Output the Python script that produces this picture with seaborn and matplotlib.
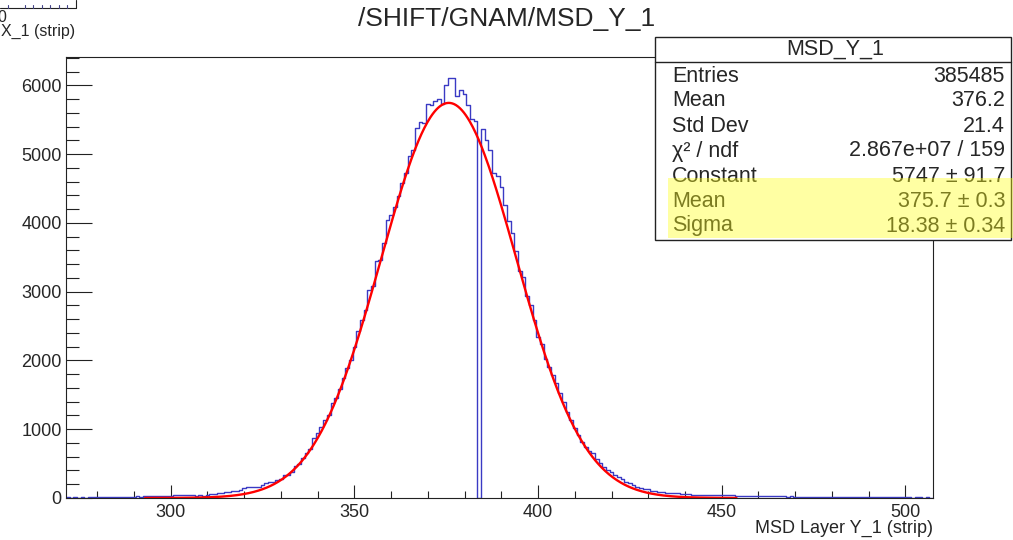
import numpy as np
import pandas as pd
import matplotlib
matplotlib.use("Agg")
import matplotlib.pyplot as plt
import seaborn as sns
from matplotlib.patches import Rectangle
from matplotlib.lines import Line2D
from matplotlib.ticker import MultipleLocator

# ---------------- data ----------------
title = "/SHIFT/GNAM/MSD_Y_1"
x_label = "MSD Layer Y_1 (strip)"
first_strip = 272
counts = [
    8, 5, 9, 6, 10, 7, 12, 9, 14, 11,
    15, 12, 16, 14, 18, 20, 17, 21, 19, 22,
    20, 22, 25, 23, 27, 26, 29, 28, 31, 40,
    44, 42, 46, 43, 47, 36, 38, 35, 40, 55,
    60, 70, 76, 80, 88, 100, 104, 110, 150, 155,
    158, 160, 165, 189, 222, 228, 234, 268, 275, 330,
    340, 383, 470, 490, 578, 650, 708, 868, 941, 1029,
    1135, 1208, 1378, 1451, 1582, 1742, 1887, 2009, 2203, 2436,
    2591, 2737, 3028, 3086, 3440, 3460, 3707, 4047, 4110, 4230,
    4386, 4580, 4726, 4969, 5066, 5381, 5463, 5454, 5731, 5720,
    5769, 5803, 5731, 6012, 6109, 6109, 5852, 5929, 5881, 5720,
    5512, 5478, 0, 5367, 5201, 5056, 4726, 4687, 4522, 4265,
    4022, 3853, 3586, 3295, 3212, 2931, 2810, 2591, 2348, 2242,
    2019, 1902, 1790, 1670, 1520, 1390, 1250, 1130, 1020, 917,
    820, 747, 689, 650, 563, 505, 456, 408, 383, 330,
    301, 270, 238, 213, 190, 165, 141, 130, 126, 107,
    95, 92, 85, 78, 75, 70, 68, 62, 58, 55,
    50, 47, 44, 42, 44, 40, 45, 41, 43, 40,
    38, 42, 35, 33, 36, 32, 30, 33, 29, 30,
    27, 28, 24, 26, 22, 23, 20, 22, 19, 21,
    18, 17, 19, 15, 17, 14, 16, 13, 15, 14,
    15, 13, 16, 12, 14, 13, 15, 12, 11, 10,
    12, 9, 11, 10, 8, 11, 9, 8, 10, 9,
    7, 9, 8, 6, 8, 7,
]
strips = np.arange(first_strip, first_strip + len(counts))

# Gaussian fit parameters (from stats box)
fit_constant = 5747.0
fit_mean = 375.7
fit_sigma = 18.38
fit_range = (293.0, 454.0)

stats_title = "MSD_Y_1"
stats_labels = ["Entries", "Mean", "Std Dev", "χ² / ndf", "Constant", "Mean", "Sigma"]
stats_values = ["385485", "376.2", "21.4", "2.867e+07 / 159",
                "5747 ± 91.7", "375.7 ± 0.3", "18.38 ± 0.34"]

# ---------------- style ----------------
sns.set_style("ticks")
plt.rcParams["font.family"] = ["Liberation Sans", "DejaVu Sans"]

W, H = 1013, 540
def fx(px):
    return px / W
def fy(py):
    return 1 - py / H

fig = plt.figure(figsize=(W / 100, H / 100), dpi=100)
ax = fig.add_axes([fx(66), fy(498), fx(933) - fx(66), fy(57) - fy(498)])

df = pd.DataFrame({"strip": strips.astype(float), "entries": np.asarray(counts, dtype=float)})
lo = first_strip - 0.5
hi = first_strip + len(counts) - 0.5
sns.histplot(data=df, x="strip", weights="entries", binwidth=1.0, binrange=(lo, hi),
             element="step", fill=False, color="#3a3ac4", linewidth=1.0, ax=ax)

xfit = np.linspace(fit_range[0], fit_range[1], 600)
yfit = fit_constant * np.exp(-0.5 * ((xfit - fit_mean) / fit_sigma) ** 2)
sns.lineplot(x=xfit, y=yfit, color="red", linewidth=1.7, ax=ax)

ax.set_xlim(lo, hi)
ax.set_ylim(0, 1.05 * max(counts))
ax.set_xlabel("")
ax.set_ylabel("")
ax.xaxis.set_major_locator(MultipleLocator(50))
ax.xaxis.set_minor_locator(MultipleLocator(10))
ax.yaxis.set_major_locator(MultipleLocator(1000))
ax.yaxis.set_minor_locator(MultipleLocator(200))
ax.tick_params(axis="x", which="major", direction="in", length=9.4, width=0.8,
               labelsize=13, pad=4.5, top=False, color="#222222")
ax.tick_params(axis="x", which="minor", direction="in", length=4.7, width=0.8,
               top=False, color="#222222")
ax.tick_params(axis="y", which="major", direction="in", length=18.7, width=0.8,
               labelsize=13, pad=3, right=False, color="#222222")
ax.tick_params(axis="y", which="minor", direction="in", length=9.4, width=0.8,
               right=False, color="#222222")
for s in ax.spines.values():
    s.set_visible(True)
    s.set_linewidth(0.8)
    s.set_color("#222222")

# title and axis title
fig.text(fx(507), fy(19), title, ha="center", va="center", fontsize=19)
fig.text(fx(933), fy(528.5), x_label, ha="right", va="center", fontsize=13)

# stats box
fig.add_artist(Rectangle((fx(655), fy(240)), fx(1011) - fx(655), fy(37) - fy(240),
                         transform=fig.transFigure, facecolor="white",
                         edgecolor="#222222", linewidth=1.0, zorder=10))
fig.add_artist(Line2D([fx(655), fx(1011)], [fy(62), fy(62)], transform=fig.transFigure,
                      color="#222222", linewidth=1.0, zorder=11))
fig.text(fx(835), fy(49), stats_title, ha="center", va="center", fontsize=15.5, zorder=12)
row_y = [76, 101, 126, 151, 177, 202, 226]
for lab, val, yy in zip(stats_labels, stats_values, row_y):
    fig.text(fx(672), fy(yy), lab, ha="left", va="center", fontsize=15.5, zorder=12)
    fig.text(fx(1005), fy(yy), val, ha="right", va="center", fontsize=15.5, zorder=12)
fig.add_artist(Rectangle((fx(668), fy(238)), fx(1013) - fx(668), fy(178) - fy(238),
                         transform=fig.transFigure, facecolor=(1, 1, 0.1),
                         alpha=0.4, edgecolor="none", zorder=13))

# remnant of neighbouring pad (top-left corner)
fig.add_artist(Line2D([0, fx(76)], [fy(8), fy(8)], transform=fig.transFigure,
                      color="#222222", linewidth=0.8))
fig.add_artist(Line2D([fx(76), fx(76)], [fy(8), 1], transform=fig.transFigure,
                      color="#222222", linewidth=0.8))
for tx in [8, 25, 33, 42, 50, 59, 67]:
    fig.add_artist(Line2D([fx(tx), fx(tx)], [fy(8), fy(5)], transform=fig.transFigure,
                          color="#444488", linewidth=0.8))
fig.text(fx(-3), fy(18), "0", ha="left", va="center", fontsize=11.5)
fig.text(fx(75), fy(31), "X_1 (strip)", ha="right", va="center", fontsize=11.5)

fig.savefig("out.png", dpi=100)
